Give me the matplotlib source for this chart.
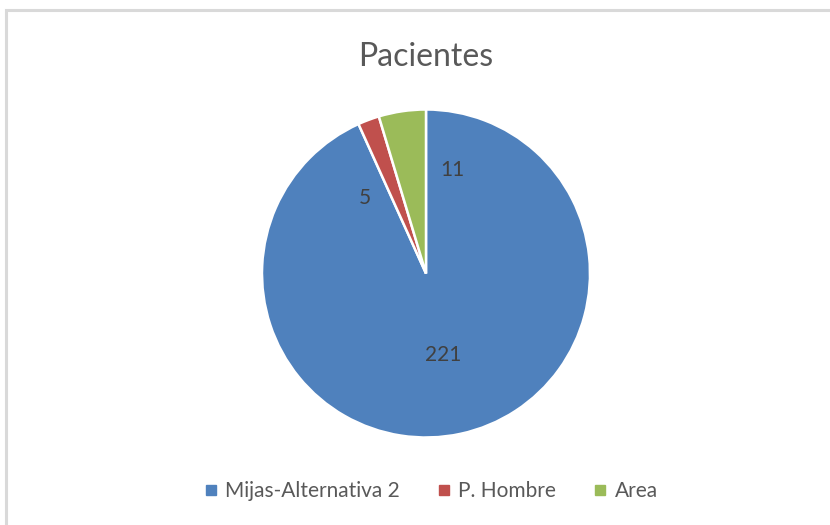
import matplotlib
matplotlib.use("Agg")
import matplotlib.pyplot as plt
from matplotlib.patches import Rectangle
from matplotlib.lines import Line2D
import numpy as np

plt.rcParams['font.family'] = ['Lato', 'DejaVu Sans']

# data
categories = ["Mijas-Alternativa 2", "P. Hombre", "Area"]
values = [221, 5, 11]
colors = ["#4f81bd", "#c0504d", "#9bbb59"]

# label placement (best-fit style, relative to wedge middle)
label_dtheta = [0, 18.5, -22.5]
label_r = [0.51, 0.59, 0.65]

W, H = 830, 525
fig = plt.figure(figsize=(W / 100, H / 100), dpi=100)
fig.patch.set_facecolor("white")

# chart border
fig.patches.append(Rectangle((6 / W, -0.01), 1.0, (H - 10) / H + 0.01,
                             transform=fig.transFigure, fill=False,
                             edgecolor="#d9d9d9", linewidth=2.2))

cx, cy, r = 426, 273.5, 164
ax = fig.add_axes([(cx - r) / W, (H - cy - r) / H, 2 * r / W, 2 * r / H])
wedges, _ = ax.pie(values, colors=colors, startangle=90, counterclock=False,
                   wedgeprops=dict(edgecolor="white", linewidth=1.8))
ax.set_xlim(-1.0, 1.0)
ax.set_ylim(-1.0, 1.0)
ax.axis("off")

for w, v, dt, lr in zip(wedges, values, label_dtheta, label_r):
    mid = np.deg2rad((w.theta1 + w.theta2) / 2 + dt)
    ax.text(lr * np.cos(mid), lr * np.sin(mid), str(v), ha="center", va="center",
            fontsize=15, color="#404040")

fig.text(cx / W, 1 - 57 / H, "Pacientes", ha="center", va="center",
         fontsize=23, color="#595959")

handles = [Line2D([], [], marker="s", linestyle="none", markersize=6.5,
                  markerfacecolor=c, markeredgecolor=c) for c in colors]
fig.legend(handles, categories, loc="center", bbox_to_anchor=(430 / W, 1 - 491 / H),
           ncol=3, frameon=False, fontsize=15, labelcolor="#595959",
           handletextpad=0.3, columnspacing=1.7, handlelength=0.8)

fig.savefig("out.png", dpi=100, facecolor="white")
